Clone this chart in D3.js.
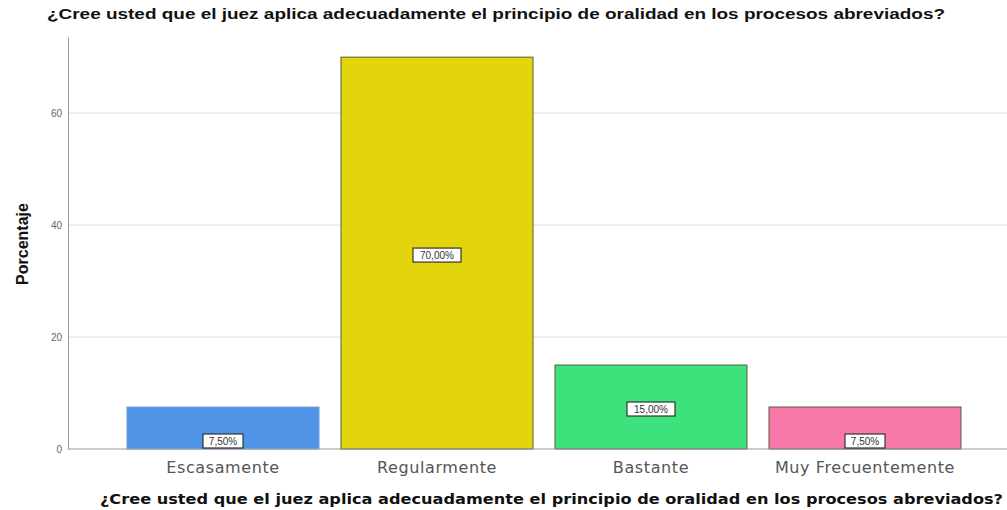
<!DOCTYPE html>
<html>
<head>
<meta charset="utf-8">
<script src="https://cdn.jsdelivr.net/npm/d3@7"></script>
<style>
  body { margin: 0; background: #fff; }
  svg { display: block; }
</style>
</head>
<body>
<svg id="chart" width="1007" height="510"></svg>
<script>
// data
var categories = ["Escasamente", "Regularmente", "Bastante", "Muy Frecuentemente"];
var percents = [7.5, 70, 15, 7.5];
var labels = ["7,50%", "70,00%", "15,00%", "7,50%"];
var colors = ["#4f93e6", "#e3d50c", "#3ee27c", "#f879a9"];
var yTicks = [0, 20, 40, 60];
var title = "¿Cree usted que el juez aplica adecuadamente el principio de oralidad en los procesos abreviados?";

var svg = d3.select("#chart"),
  width = +svg.attr("width"),
  height = +svg.attr("height"),
  axisX = 68,
  baseY = 449;

var x = d3.scaleBand()
  .domain(categories)
  .range([116, 972])
  .paddingInner(22 / 214)
  .paddingOuter(11 / 214);

var y = d3.scaleLinear()
  .domain([0, 73.6])
  .range([baseY, 37]);

// gridlines
svg.append("g")
  .selectAll("line")
  .data(yTicks.filter(function (d) { return d > 0; }))
  .join("line")
  .attr("x1", axisX)
  .attr("x2", width)
  .attr("y1", function (d) { return y(d); })
  .attr("y2", function (d) { return y(d); })
  .attr("stroke", "#dcdcdc")
  .attr("stroke-width", 1);

// y axis
var yAxis = svg.append("g")
  .attr("transform", "translate(" + axisX + ",0)")
  .call(d3.axisLeft(y).tickValues(yTicks).tickSize(0).tickPadding(6));
yAxis.select(".domain").attr("stroke", "#9a9a9a");
yAxis.selectAll("text")
  .attr("fill", "#666")
  .style("font-family", "Liberation Sans, Arial, sans-serif")
  .style("font-size", "10px");

// bars
svg.append("g")
  .selectAll("rect")
  .data(percents)
  .join("rect")
  .attr("x", function (d, i) { return x(categories[i]); })
  .attr("y", function (d) { return y(d); })
  .attr("width", x.bandwidth())
  .attr("height", function (d) { return baseY - y(d); })
  .attr("fill", function (d, i) { return colors[i]; })
  .attr("stroke", function (d, i) { return i === 0 ? "#6f9fd8" : "#5a5a3a"; })
  .attr("stroke-width", 1);

// x axis line
svg.append("line")
  .attr("x1", axisX).attr("x2", width)
  .attr("y1", baseY).attr("y2", baseY)
  .attr("stroke", "#9a9a9a");

// value labels in boxes
var lab = svg.append("g")
  .selectAll("g")
  .data(percents)
  .join("g")
  .attr("transform", function (d, i) {
    var cx = x(categories[i]) + x.bandwidth() / 2;
    var cy = (baseY - y(d)) < 50 ? baseY - 8 : y(d / 2) + 2;
    return "translate(" + cx + "," + cy + ")";
  });

lab.append("rect")
  .attr("x", function (d, i) { return i === 1 || i === 2 ? -24 : -20; })
  .attr("y", -7)
  .attr("width", function (d, i) { return i === 1 || i === 2 ? 48 : 40; })
  .attr("height", 14)
  .attr("fill", "#fff")
  .attr("stroke", "#333")
  .attr("stroke-width", 1.2);

lab.append("text")
  .attr("text-anchor", "middle")
  .attr("dy", "0.35em")
  .attr("fill", "#333")
  .style("font-family", "Liberation Sans, Arial, sans-serif")
  .style("font-size", "10px")
  .text(function (d, i) { return labels[i]; });

// category tick labels
svg.append("g")
  .selectAll("text")
  .data(categories)
  .join("text")
  .attr("x", function (d) { return x(d) + x.bandwidth() / 2; })
  .attr("y", 467)
  .attr("text-anchor", "middle")
  .attr("dy", "0.35em")
  .attr("fill", "#555")
  .style("font-family", "DejaVu Sans, Verdana, sans-serif")
  .style("font-size", "16px")
  .style("letter-spacing", "0.6px")
  .text(function (d) { return d; });

// chart title
svg.append("text")
  .attr("x", 47)
  .attr("y", 14)
  .attr("dy", "0.35em")
  .attr("textLength", 898)
  .attr("lengthAdjust", "spacingAndGlyphs")
  .attr("fill", "#111")
  .style("font-family", "Liberation Sans, Arial, sans-serif")
  .style("font-weight", "bold")
  .style("font-size", "15px")
  .text(title);

// x axis title
svg.append("text")
  .attr("x", 100)
  .attr("y", 499)
  .attr("dy", "0.35em")
  .attr("textLength", 903)
  .attr("lengthAdjust", "spacingAndGlyphs")
  .attr("fill", "#111")
  .style("font-family", "DejaVu Sans, Verdana, sans-serif")
  .style("font-weight", "bold")
  .style("font-size", "13.5px")
  .text(title);

// y axis title
svg.append("text")
  .attr("transform", "translate(22,244) rotate(-90)")
  .attr("text-anchor", "middle")
  .attr("dy", "0.35em")
  .attr("fill", "#111")
  .style("font-family", "Liberation Sans, Arial, sans-serif")
  .style("font-weight", "bold")
  .style("font-size", "16px")
  .text("Porcentaje");
</script>
</body>
</html>
